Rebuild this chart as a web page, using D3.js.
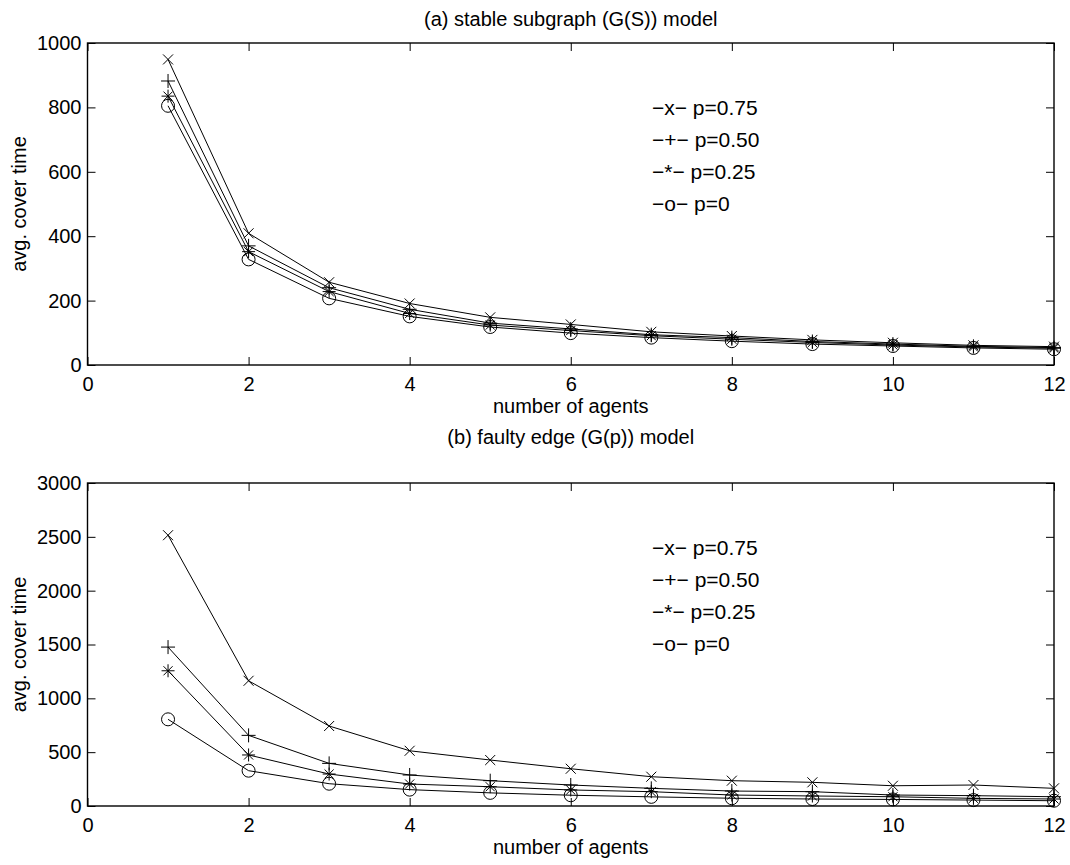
<!DOCTYPE html>
<html>
<head>
<meta charset="utf-8">
<script src="https://cdn.jsdelivr.net/npm/d3@7"></script>
<style>
  body { margin: 0; background: #fff; }
  svg text { font-family: "Liberation Sans", Arial, sans-serif; fill: #000; }
  .tick line { stroke: #000; }
</style>
</head>
<body>
<div id="chart"></div>
<script>
'use strict';

// number of agents
var agents = [1, 2, 3, 4, 5, 6, 7, 8, 9, 10, 11, 12];

// (a) stable subgraph model
var stableP75 = [949, 409, 257, 191, 148, 126, 103, 90, 78, 69, 61, 57];
var stableP50 = [882, 370, 240, 173, 130, 112, 94, 85, 73, 65, 58, 54];
var stableP25 = [835, 352, 228, 160, 124, 107, 91, 80, 70, 62, 56, 52];
var stableP0  = [805, 328, 207, 151, 118, 99, 85, 74, 65, 59, 53, 49];

// (b) faulty edge model
var faultyP75 = [2515, 1163, 743, 513, 427, 346, 272, 235, 220, 188, 195, 164];
var faultyP50 = [1476, 656, 396, 288, 235, 195, 164, 139, 133, 102, 96, 86];
var faultyP25 = [1256, 474, 297, 204, 179, 149, 133, 102, 93, 86, 71, 65];
var faultyP0  = [805, 328, 207, 152, 122, 100, 85, 72, 65, 61, 55, 49];

var xTicks = [0, 2, 4, 6, 8, 10, 12];
var yTicksA = [0, 200, 400, 600, 800, 1000];
var yTicksB = [0, 500, 1000, 1500, 2000, 2500, 3000];

var legendLabels = ["\u2212x\u2212 p=0.75", "\u2212+\u2212 p=0.50", "\u2212*\u2212 p=0.25", "\u2212o\u2212 p=0"];
var markers = ["x", "plus", "star", "circle"];

var width = 1070, height = 865;
var left = 87.5, right = 1054;
var fontSize = "20px";

var svg = d3.select("#chart").append("svg")
    .attr("width", width)
    .attr("height", height);

var x = d3.scaleLinear().domain([0, 12]).range([left, right]);

function drawMarker(g, type, px, py) {
    var s;
    if (type === "x") {
        s = 5;
        g.append("path").attr("d", "M" + (px - s) + "," + (py - s) + "L" + (px + s) + "," + (py + s) +
            "M" + (px - s) + "," + (py + s) + "L" + (px + s) + "," + (py - s));
    } else if (type === "plus") {
        s = 7;
        g.append("path").attr("d", "M" + (px - s) + "," + py + "L" + (px + s) + "," + py +
            "M" + px + "," + (py - s) + "L" + px + "," + (py + s));
    } else if (type === "star") {
        s = 6.5;
        var d2 = s * 0.7;
        g.append("path").attr("d", "M" + (px - s) + "," + py + "L" + (px + s) + "," + py +
            "M" + px + "," + (py - s) + "L" + px + "," + (py + s) +
            "M" + (px - d2) + "," + (py - d2) + "L" + (px + d2) + "," + (py + d2) +
            "M" + (px - d2) + "," + (py + d2) + "L" + (px + d2) + "," + (py - d2));
    } else {
        g.append("circle").attr("cx", px).attr("cy", py).attr("r", 6.5);
    }
}

function panel(top, bottom, yMax, yTicks, series, title, titleY, legendY) {
    var y = d3.scaleLinear().domain([0, yMax]).range([bottom, top]);
    var g = svg.append("g");

    g.append("text")
        .attr("x", (left + right) / 2)
        .attr("y", titleY)
        .attr("text-anchor", "middle")
        .style("font-size", fontSize)
        .text(title);

    // axes with inward ticks on all four sides
    g.append("g").attr("transform", "translate(0," + bottom + ")")
        .call(d3.axisBottom(x).tickValues(xTicks).tickSize(-8).tickPadding(12).tickFormat(d3.format("d")))
        .call(function (a) { a.select(".domain").remove(); });
    g.append("g").attr("transform", "translate(0," + top + ")")
        .call(d3.axisTop(x).tickValues(xTicks).tickSize(-8).tickFormat(""))
        .call(function (a) { a.select(".domain").remove(); });
    g.append("g").attr("transform", "translate(" + left + ",0)")
        .call(d3.axisLeft(y).tickValues(yTicks).tickSize(-8).tickPadding(6).tickFormat(d3.format("d")))
        .call(function (a) { a.select(".domain").remove(); });
    g.append("g").attr("transform", "translate(" + right + ",0)")
        .call(d3.axisRight(y).tickValues(yTicks).tickSize(-8).tickFormat(""))
        .call(function (a) { a.select(".domain").remove(); });
    g.selectAll(".tick text")
        .attr("fill", "#000")
        .style("font-size", fontSize)
        .style("font-family", "'Liberation Sans', Arial, sans-serif");

    g.append("rect")
        .attr("x", left).attr("y", top)
        .attr("width", right - left).attr("height", bottom - top)
        .attr("fill", "none").attr("stroke", "#000").attr("stroke-width", 1.4);

    var line = d3.line()
        .x(function (d, i) { return x(agents[i]); })
        .y(function (d) { return y(d); });

    series.forEach(function (vals, k) {
        g.append("path")
            .datum(vals)
            .attr("d", line)
            .attr("fill", "none")
            .attr("stroke", "#000")
            .attr("stroke-width", 1);
        var mg = g.append("g").attr("fill", "none").attr("stroke", "#000").attr("stroke-width", 1);
        vals.forEach(function (v, i) { drawMarker(mg, markers[k], x(agents[i]), y(v)); });
    });

    legendLabels.forEach(function (t, k) {
        g.append("text")
            .attr("x", 652)
            .attr("y", legendY + k * 32)
            .attr("dy", "0.35em")
            .style("font-size", "21px")
            .text(t);
    });

    g.append("text")
        .attr("x", (left + right) / 2)
        .attr("y", bottom + 48)
        .attr("text-anchor", "middle")
        .style("font-size", fontSize)
        .text("number of agents");

    g.append("text")
        .attr("transform", "translate(26," + (top + bottom) / 2 + ") rotate(-90)")
        .attr("text-anchor", "middle")
        .style("font-size", fontSize)
        .text("avg. cover time");
}

panel(43, 365, 1000, yTicksA, [stableP75, stableP50, stableP25, stableP0],
    "(a) stable subgraph (G(S)) model", 26, 108);
panel(483, 806, 3000, yTicksB, [faultyP75, faultyP50, faultyP25, faultyP0],
    "(b) faulty edge (G(p)) model", 444, 548);
</script>
</body>
</html>
